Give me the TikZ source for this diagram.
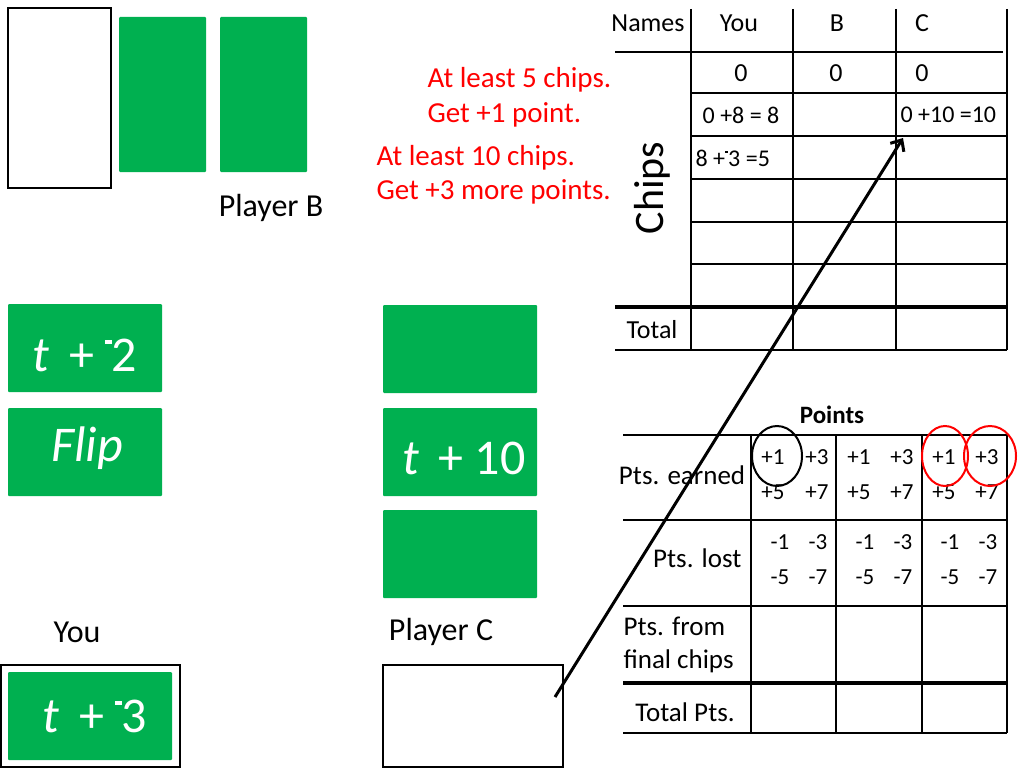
\documentclass[tikz,border=0pt]{standalone}
\usepackage{fontspec}
\setmainfont{Carlito}
\usetikzlibrary{arrows.meta}
\definecolor{cardgreen}{HTML}{00B050}
\newcommand{\raisedminus}{\rule[0.54em]{0.13em}{0.09em}}
\tikzset{
    card/.style = {fill = cardgreen, draw = none, rounded corners = 1pt, inner sep = 0pt},
    cardtext/.style = {text = white, font = \fontsize{50}{54}\selectfont},
    rulenote/.style = {text = red, anchor = west, font = \fontsize{29}{33}\selectfont},
    label/.style = {font = \fontsize{32}{36}\selectfont},
    cell/.style = {font = \fontsize{26}{30}\selectfont},
    small/.style = {font = \fontsize{23}{27}\selectfont},
    gridline/.style = {line width = 2pt},
    boldline/.style = {line width = 4pt}
}
\begin{document}
\begin{tikzpicture}[x = 1pt, y = -1pt]
        \useasboundingbox (0,0) rectangle (1024,768);
        % Player B
        \draw [line width = 2.5pt] (8,8) rectangle (111,188);
        \node [card, minimum width = 87pt, minimum height = 155pt] (cardB1) at (162.5,94.5) {};
        \node [card, minimum width = 87pt, minimum height = 155pt] (cardB2) at (263.5,94.5) {};
        \node [label] (nameB) at (271,208) {Player B};
        % rules
        \node [rulenote] (ruleA) at (424,80) {At least 5 chips.};
        \node [rulenote] (ruleB) at (424,115) {Get +1 point.};
        \node [rulenote] (ruleC) at (373,158) {At least 10 chips.};
        \node [rulenote] (ruleD) at (373,192) {Get +3 more points.};
        % left cards
        \node [card, minimum width = 154pt, minimum height = 88pt] (cardL1) at (85,348) {};
        \node [cardtext] at (85,355) {\textit{t}\, + \raisedminus2};
        \node [card, minimum width = 154pt, minimum height = 88pt] (cardL2) at (85,452) {};
        \node [cardtext] at (87,448) {\textit{Flip}};
        % right cards
        \node [card, minimum width = 154pt, minimum height = 88pt] (cardR1) at (460,349) {};
        \node [card, minimum width = 154pt, minimum height = 88pt] (cardR2) at (460,452) {};
        \node [cardtext] at (464,458) {\textit{t}\, + 10};
        \node [card, minimum width = 154pt, minimum height = 88pt] (cardR3) at (460,554) {};
        % You and Player C
        \node [label] (nameYou) at (77,632) {You};
        \node [label] (nameC) at (441,632) {Player C};
        \draw [line width = 2pt] (1,665) rectangle (180,767);
        \node [card, minimum width = 164pt, minimum height = 88pt] (cardYou) at (90,716) {};
        \node [cardtext] at (95,716) {\textit{t}\, + \raisedminus3};
        \draw [line width = 2pt] (383,665) rectangle (563,767);
        % chips table
        \draw [gridline] (691,9) -- (691,350);
        \draw [gridline] (793,9) -- (793,350);
        \draw [gridline] (896,9) -- (896,350);
        \draw [gridline] (1007,9) -- (1007,350);
        \draw [gridline] (615,52) -- (1003,52);
        \draw [gridline] (691,93) -- (1007,93);
        \draw [gridline] (691,136) -- (1007,136);
        \draw [gridline] (691,179) -- (1007,179);
        \draw [gridline] (691,222) -- (1007,222);
        \draw [gridline] (691,264) -- (1007,264);
        \draw [boldline] (615,307) -- (1007,307);
        \draw [gridline] (615,350) -- (1007,350);
        \node [cell] (hNames) at (648,23) {Names};
        \node [cell] (hYou) at (739,23) {You};
        \node [cell] (hB) at (837,23) {B};
        \node [cell] (hC) at (922,23) {C};
        \node [cell] (startYou) at (741,73) {0};
        \node [cell] (startB) at (836,73) {0};
        \node [cell] (startC) at (922,73) {0};
        \node [cell, font = \fontsize{24}{28}\selectfont] (turnYou1) at (741,115) {0 +8 = 8};
        \node [cell, font = \fontsize{24}{28}\selectfont, anchor = west] (turnC1) at (897,115) {0 +10 =10};
        \node [cell, font = \fontsize{24}{28}\selectfont, anchor = west] (turnYou2) at (692,158) {8 +\raisedminus3 =5};
        \node [rotate = 90, font = \fontsize{42}{46}\selectfont] (hChips) at (652,188) {Chips};
        \node [cell] (hTotal) at (652,330) {Total};
        % points table
        \node [font = \bfseries\fontsize{25}{29}\selectfont] (hPoints) at (832,415) {Points};
        \draw [gridline] (623,435) -- (1007,435);
        \draw [gridline] (623,520) -- (1007,520);
        \draw [gridline] (623,606) -- (1007,606);
        \draw [boldline] (623,683) -- (1007,683);
        \draw [gridline] (623,733) -- (1007,733);
        \draw [gridline] (751,435) -- (751,733);
        \draw [gridline] (836,435) -- (836,733);
        \draw [gridline] (922,435) -- (922,733);
        \draw [gridline] (1007,435) -- (1007,733);
        \node [cell, font = \fontsize{27}{31}\selectfont] (hEarned) at (682,475) {Pts. earned};
        \node [cell, font = \fontsize{27}{31}\selectfont, anchor = east] (hLost) at (745,558) {Pts. lost};
        \node [cell, font = \fontsize{27}{31}\selectfont, anchor = west] (hFrom1) at (620,626) {Pts. from};
        \node [cell, font = \fontsize{27}{31}\selectfont, anchor = west] (hFrom2) at (620,661) {final chips};
        \node [cell, font = \fontsize{27}{31}\selectfont] (hTotPts) at (685,712) {Total Pts.};
        % points earned
        \node [small] (eYa) at (773,457) {+1};
        \node [small] (eYb) at (817,457) {+3};
        \node [small] (eYc) at (773,492) {+5};
        \node [small] (eYd) at (817,492) {+7};
        \node [small] (eBa) at (859,457) {+1};
        \node [small] (eBb) at (902,457) {+3};
        \node [small] (eBc) at (859,492) {+5};
        \node [small] (eBd) at (902,492) {+7};
        \node [small] (eCa) at (944,457) {+1};
        \node [small] (eCb) at (987,457) {+3};
        \node [small] (eCc) at (944,492) {+5};
        \node [small] (eCd) at (987,492) {+7};
        % points lost
        \node [small] (lYa) at (780,542) {-1};
        \node [small] (lYb) at (818,542) {-3};
        \node [small] (lYc) at (780,577) {-5};
        \node [small] (lYd) at (818,577) {-7};
        \node [small] (lBa) at (865,542) {-1};
        \node [small] (lBb) at (903,542) {-3};
        \node [small] (lBc) at (865,577) {-5};
        \node [small] (lBd) at (903,577) {-7};
        \node [small] (lCa) at (950,542) {-1};
        \node [small] (lCb) at (988,542) {-3};
        \node [small] (lCc) at (950,577) {-5};
        \node [small] (lCd) at (988,577) {-7};
        % circles
        \draw [line width = 2pt] (777,456) ellipse [x radius = 25, y radius = 30];
        \draw [line width = 2pt, red] (945,456) ellipse [x radius = 23, y radius = 30];
        \draw [line width = 2pt, red] (990,456) ellipse [x radius = 26, y radius = 30];
        % arrow
        \coordinate (fromC) at (555,697);
        \coordinate (toCell) at (903,138);
        \draw [line width = 3pt, -{Straight Barb[length = 9pt, width = 16pt]}] (fromC) -- (toCell);
    \end{tikzpicture}
\end{document}
